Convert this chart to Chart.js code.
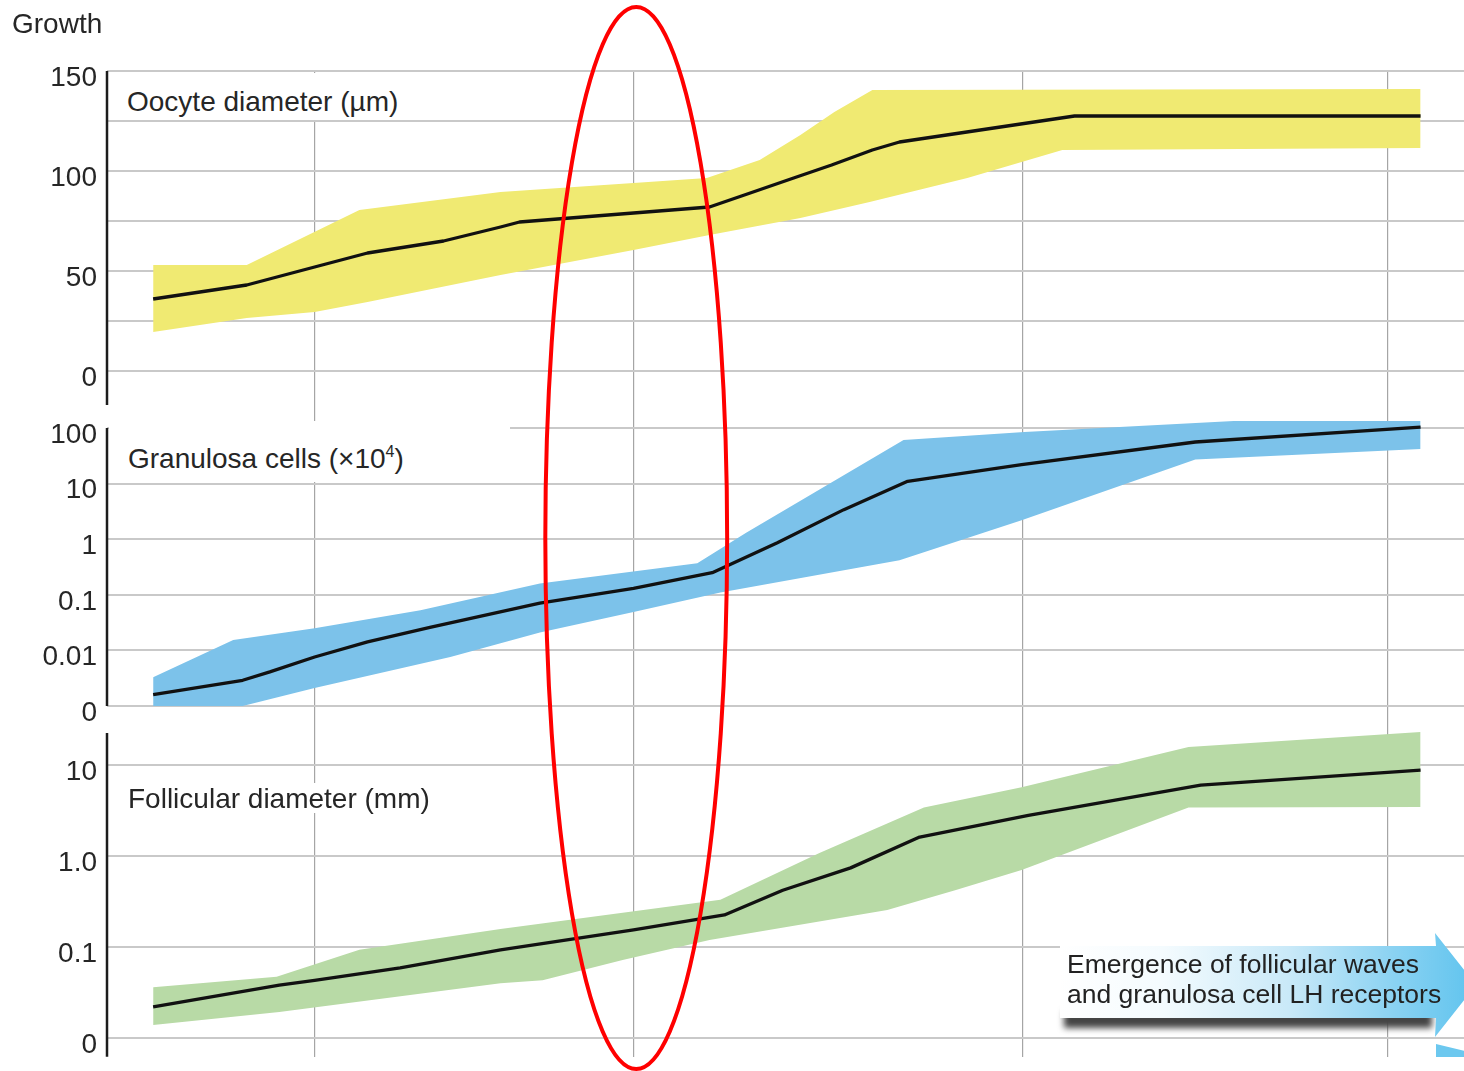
<!DOCTYPE html>
<html>
<head>
<meta charset="utf-8">
<script src="https://cdn.jsdelivr.net/npm/chart.js@4.4.1/dist/chart.umd.min.js"></script>
<style>
  html, body { margin: 0; padding: 0; background: #ffffff; overflow: hidden; }
  #wrap { position: relative; width: 1464px; height: 1071px; overflow: hidden; background: #fff; }
  #c { position: absolute; left: 0; top: 0; }
  .txt { position: absolute; font-family: "Liberation Sans", Arial, sans-serif; color: #262626;
         white-space: nowrap; font-size: 28px; line-height: 27px; }
  .box { background: #ffffff; box-sizing: border-box; }
  #growth { left: 12px; top: 10px; }
  #lab1 { left: 109px; top: 73px; width: 304px; height: 47px; padding: 15px 0 0 18px; }
  #lab2 { left: 109px; top: 421px; width: 401px; height: 61px; padding: 24px 0 0 19px; }
  #lab3 { left: 124px; top: 783px; width: 320px; height: 30px; padding: 2px 0 0 4px; }
  #lab2 sup { font-size: 16px; line-height: 0; vertical-align: 11px; }
  #arrowShadow { position: absolute; left: 1064px; top: 1011px; width: 368px; height: 17px;
                 background: #444; filter: blur(3px); }
  #arrow { position: absolute; left: 1058px; top: 932px; width: 420px; height: 108px;
           background: linear-gradient(90deg, #ffffff 0%, #f4fbfe 25%, #c9e9f8 55%, #8ad2f2 80%, #5ec3ee 100%);
           clip-path: polygon(2px 14px, 378px 14px, 377px 1px, 418px 53px, 377px 105px, 378px 86px, 2px 86px); }
  #arrow2 { position: absolute; left: 1436px; top: 1044px; width: 30px; height: 13px; background: #6cc8ef;
            clip-path: polygon(0 0, 100% 55%, 100% 100%, 0 100%); }
  #arrowText { left: 1067px; top: 949px; font-size: 26.5px; line-height: 30px; color: #222; }
</style>
</head>
<body>
<div id="wrap">
  <canvas id="c" width="1464" height="1071"></canvas>
  <div class="txt" id="growth">Growth</div>
  <div class="txt box" id="lab1">Oocyte diameter (µm)</div>
  <div class="txt box" id="lab2">Granulosa cells (×10<sup>4</sup>)</div>
  <div class="txt box" id="lab3">Follicular diameter (mm)</div>
  <div id="arrowShadow"></div>
  <div id="arrow"></div>
  <div id="arrow2"></div>
  <div class="txt" id="arrowText">Emergence of follicular waves<br>and granulosa cell LH receptors</div>
</div>
<script>
// ---------- data (x = developmental stage, arbitrary 0–100 units) ----------
const stageGrid = [15.3, 38.8, 67.5, 94.4];

// Oocyte diameter (µm), linear axis
const oocyteTicks  = [0, 25, 50, 75, 100, 125, 150];
const oocyteLabels = ['0', '', '50', '', '100', '', '150'];
const oocyteMeanX  = [3.4, 10.3, 15.3, 19.2, 24.8, 29.0, 30.4, 38.8, 44.4, 47.4, 50.6, 53.4, 56.4, 58.4, 71.3, 96.8];
const oocyteMean   = [36, 43, 52, 59, 65, 72, 74.5, 79, 82, 89, 96.5, 103, 110.5, 114.5, 127.5, 127.5];
const oocyteUpperX = [3.4, 10.3, 18.6, 29.0, 38.8, 44.2, 48.1, 51.1, 53.6, 56.4, 96.8];
const oocyteUpper  = [53, 53, 80.5, 89.5, 94, 96.5, 105.5, 118, 129.5, 140.5, 141];
const oocyteLowerX = [3.4, 10.3, 15.3, 19.2, 29.0, 38.8, 44.4, 51.1, 56.2, 63.4, 70.4, 96.8];
const oocyteLower  = [19.5, 26.5, 29.5, 34.5, 48, 60.5, 68, 76.5, 84.5, 96.5, 110.5, 111.5];

// Granulosa cells (×10^4), log axis ("0" drawn at 0.001)
const granTicks  = [0.001, 0.01, 0.1, 1, 10, 100];
const granLabels = ['0', '0.01', '0.1', '1', '10', '100'];
const granMeanX  = [3.4, 10.0, 12.0, 15.3, 19.2, 23.8, 31.9, 38.8, 44.6, 49.4, 54.3, 59.0, 67.4, 80.2, 96.8];
const granMean   = [0.0016, 0.0029, 0.0041, 0.0076, 0.0142, 0.026, 0.071, 0.13, 0.25, 0.86, 3.4, 11, 22, 56, 104];
const granUpperX = [3.4, 9.3, 15.3, 23.1, 31.9, 43.5, 47.1, 58.7, 67.6, 96.8];
const granUpper  = [0.0033, 0.0154, 0.025, 0.053, 0.16, 0.37, 1.3, 61, 85, 200];
const granLowerX = [3.4, 10.0, 15.3, 25.3, 31.9, 38.8, 45.2, 58.4, 67.4, 80.2, 96.8];
const granLower  = [0.001, 0.001, 0.0021, 0.0076, 0.021, 0.049, 0.11, 0.42, 2.2, 27, 42];

// Follicular diameter (mm), log axis ("0" drawn at 0.01)
const follTicks  = [0.01, 0.1, 1, 10];
const follLabels = ['0', '0.1', '1.0', '10'];
const follMeanX  = [3.4, 12.7, 15.3, 21.6, 29.0, 38.8, 45.5, 49.8, 54.8, 59.8, 67.9, 74.3, 80.6, 96.8];
const follMean   = [0.022, 0.038, 0.043, 0.059, 0.093, 0.154, 0.225, 0.42, 0.74, 1.6, 2.8, 4.1, 6.0, 8.8];
const follUpperX = [3.4, 12.5, 18.6, 29.0, 45.2, 52.5, 60.2, 67.4, 79.7, 96.8];
const follUpper  = [0.036, 0.047, 0.093, 0.158, 0.33, 1.08, 3.4, 5.7, 15.8, 23];
const follLowerX = [3.4, 12.7, 29.0, 32.1, 38.0, 44.4, 57.5, 62.5, 67.4, 79.7, 96.8];
const follLower  = [0.0139, 0.0193, 0.040, 0.043, 0.072, 0.119, 0.255, 0.42, 0.70, 3.4, 3.45];

// axis-line extents (in each panel's own units) and highlighted stage range
const oocyteAxisSpan = [150, -17];
const granAxisSpan   = [100, 0.001];
const follAxisSpan   = [22.5, 0.0062];
const highlightStages = [32.3, 45.7];

// ---------- chart ----------
Chart.defaults.font.family = '"Liberation Sans", Arial, sans-serif';

const pts = (xs, ys) => xs.map((x, i) => ({ x: x, y: ys[i] }));

const meanLine = (label, xs, ys, axis) => ({
  label, data: pts(xs, ys), yAxisID: axis, borderColor: '#111111', borderWidth: 3.3,
  pointRadius: 0, fill: false, tension: 0, order: 0, borderJoinStyle: 'round'
});
const bandEdge = (label, xs, ys, axis, color, fill) => ({
  label, data: pts(xs, ys), yAxisID: axis, borderColor: 'rgba(0,0,0,0)', borderWidth: 0,
  backgroundColor: color, pointRadius: 0, fill: fill, tension: 0, order: 1
});

const yScale = (type, min, max, weight, stackWeight, tickVals, labels) => ({
  type, min, max, bounds: 'data', position: 'left', stack: 'panels', stackWeight, weight,
  border: { display: false },
  grid: { color: '#c9c9c9', lineWidth: 2, drawTicks: false },
  ticks: { autoSkip: false, padding: 10, labelOffset: 7, color: '#262626', font: { size: 28 },
           callback: (v, i) => labels[i] },
  afterBuildTicks: s => { s.ticks = tickVals.map(v => ({ value: v })); },
  afterFit: s => { s.width = 107; s.paddingTop = 0; s.paddingBottom = 0; }
});

const decor = {
  id: 'decor',
  afterDraw(chart) {
    const ctx = chart.ctx;
    ctx.save();
    ctx.strokeStyle = '#1c1c1c';
    ctx.lineWidth = 2.5;
    [['y1', oocyteAxisSpan], ['y2', granAxisSpan], ['y3', follAxisSpan]].forEach(([id, span]) => {
      const s = chart.scales[id];
      ctx.beginPath();
      ctx.moveTo(s.right, s.getPixelForValue(span[0]));
      ctx.lineTo(s.right, s.getPixelForValue(span[1]));
      ctx.stroke();
    });
    // red highlight ellipse around the stage range
    const xs = chart.scales.x;
    const l = xs.getPixelForValue(highlightStages[0]);
    const r = xs.getPixelForValue(highlightStages[1]);
    const top = 7, bottom = chart.height - 2;
    ctx.strokeStyle = '#ff0000';
    ctx.lineWidth = 4;
    ctx.beginPath();
    ctx.ellipse((l + r) / 2, (top + bottom) / 2, (r - l) / 2, (bottom - top) / 2, 0, 0, Math.PI * 2);
    ctx.stroke();
    ctx.restore();
  }
};

new Chart(document.getElementById('c'), {
  type: 'line',
  data: {
    datasets: [
      meanLine('Oocyte diameter', oocyteMeanX, oocyteMean, 'y1'),
      bandEdge('Oocyte upper', oocyteUpperX, oocyteUpper, 'y1', '#f0ea72', '+1'),
      bandEdge('Oocyte lower', oocyteLowerX, oocyteLower, 'y1', '#f0ea72', false),
      meanLine('Granulosa cells', granMeanX, granMean, 'y2'),
      bandEdge('Granulosa upper', granUpperX, granUpper, 'y2', '#7cc2ea', '+1'),
      bandEdge('Granulosa lower', granLowerX, granLower, 'y2', '#7cc2ea', false),
      meanLine('Follicular diameter', follMeanX, follMean, 'y3'),
      bandEdge('Follicular upper', follUpperX, follUpper, 'y3', '#b8daa6', '+1'),
      bandEdge('Follicular lower', follLowerX, follLower, 'y3', '#b8daa6', false)
    ]
  },
  options: {
    responsive: false,
    animation: false,
    events: [],
    layout: { padding: { top: 71, bottom: 14, left: 0, right: 0 } },
    plugins: { legend: { display: false }, tooltip: { enabled: false } },
    scales: {
      x: {
        type: 'linear', min: 0, max: 100, bounds: 'data', position: 'bottom',
        border: { display: false },
        grid: { color: '#a5a5a5', lineWidth: 1.2, drawTicks: false },
        ticks: { display: false },
        afterBuildTicks: s => { s.ticks = stageGrid.map(v => ({ value: v })); },
        afterFit: s => { s.height = 0; s.paddingLeft = 0; s.paddingRight = 0; }
      },
      y1: yScale('linear', -25, 150, 3, 350, oocyteTicks, oocyteLabels),
      y2: yScale('logarithmic', 0.000560, 133.6, 2, 299, granTicks, granLabels),
      y3: yScale('logarithmic', 0.00618, 31.2, 1, 337, follTicks, follLabels)
    }
  },
  plugins: [decor]
});
</script>
</body>
</html>
